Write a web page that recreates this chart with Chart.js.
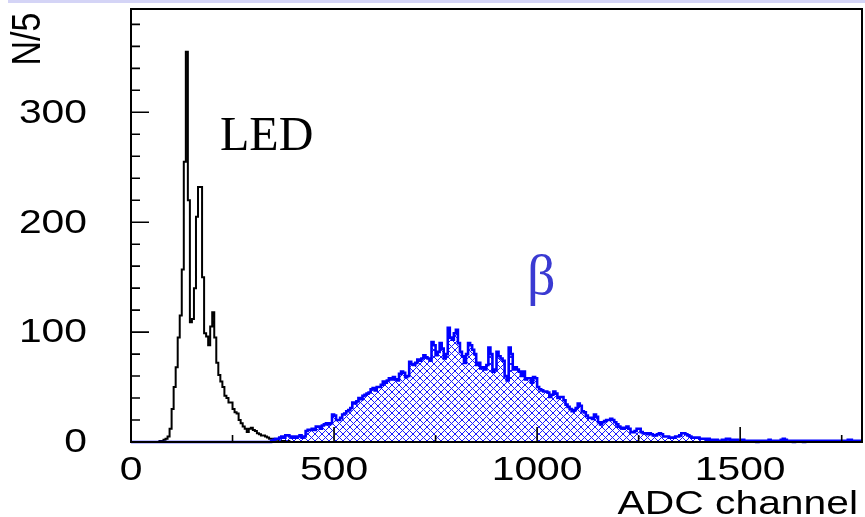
<!DOCTYPE html>
<html>
<head>
<meta charset="utf-8">
<script src="https://cdn.jsdelivr.net/npm/chart.js@4.4.1/dist/chart.umd.min.js"></script>
<style>
  html, body { margin: 0; padding: 0; background: #ffffff; }
  #wrap { position: relative; width: 865px; height: 517px; }
  #strip { position: absolute; left: 8px; top: 0; width: 857px; height: 3px; background: #d4d4f6; }
  canvas { display: block; }
</style>
</head>
<body>
<div id="wrap">
  <canvas id="c" width="865" height="517"></canvas>
  <div id="strip"></div>
</div>
<script>
// ---------- data ----------
const binWidth = 5;              // ADC channels per bin (N/5)
const xRange = [0, 1800];
const yRange = [0, 394];

const ledStart = 60;
const ledCounts = [
  0, 0, 1, 1, 2, 3, 5, 12, 30, 50,
  68, 95, 115, 157, 255, 355, 220, 109, 112, 140,
  205, 232, 232, 150, 99, 96, 88, 105, 118, 95,
  72, 61, 55, 50, 42, 40, 36, 36, 30, 27,
  26, 20, 17, 14, 12, 9, 12, 13, 11, 10,
  8, 7, 6, 6, 5, 4, 3, 3, 2, 2,
  2, 1, 1, 1, 1, 1, 0
];

const betaStart = 340;
const betaCounts = [
  0, 1, 2, 3, 3, 4, 5, 4, 6, 6,
  5, 4, 5, 4, 5, 6, 4, 5, 10, 11,
  11, 12, 11, 14, 14, 12, 15, 16, 17, 16,
  17, 25, 24, 20, 20, 22, 25, 26, 28, 29,
  31, 36, 35, 37, 40, 39, 42, 43, 44, 45,
  48, 49, 47, 50, 50, 52, 55, 54, 56, 58,
  57, 59, 57, 56, 62, 64, 63, 59, 60, 73,
  71, 70, 72, 75, 74, 76, 79, 77, 76, 74,
  91, 88, 79, 82, 90, 85, 76, 80, 104, 95,
  93, 99, 102, 90, 82, 78, 72, 80, 90, 88,
  84, 80, 70, 72, 67, 68, 66, 70, 86, 80,
  64, 66, 82, 78, 76, 74, 60, 56, 86, 80,
  66, 68, 66, 64, 60, 64, 57, 58, 58, 54,
  59, 58, 50, 48, 47, 46, 46, 45, 41, 43,
  46, 44, 40, 41, 41, 38, 34, 32, 30, 28,
  29, 31, 35, 33, 28, 27, 24, 22, 22, 21,
  25, 23, 18, 16, 18, 19, 20, 20, 21, 20,
  18, 16, 14, 13, 12, 13, 14, 12, 9, 9,
  10, 12, 12, 9, 8, 8, 7, 8, 7, 6,
  6, 7, 8, 7, 5, 5, 5, 4, 4, 4,
  5, 5, 6, 8, 8, 7, 6, 5, 4, 4,
  4, 4, 3, 3, 3, 2, 3, 2, 2, 2,
  2, 1, 1, 2, 2, 3, 3, 2, 2, 1,
  2, 1, 1, 2, 1, 1, 1, 1, 1, 1,
  0, 1, 1, 1, 1, 1, 2, 1, 1, 1,
  1, 1, 2, 3, 2, 1, 1, 1, 0, 1,
  1, 1, 1, 0, 1, 1, 1, 1, 1, 1,
  1, 1, 1, 1, 1, 1, 1, 1, 1, 1,
  1, 1, 1, 1, 1, 2, 2, 1, 1, 1,
  1, 1
];

const xMajorTicks = [0, 500, 1000, 1500];
const xMinorTicks = [250, 750, 1250, 1750];
const xTickLabels = ['0', '500', '1000', '1500'];
const yMajorTicks = [0, 100, 200, 300];
const yTickLabels = ['0', '100', '200', '300'];
const yMinorStep = 20;
const xTitle = 'ADC channel';
const yTitle = 'N/5';
const ledLabel = 'LED';
const betaLabel = 'β';

// ---------- helpers ----------
function histPoints(start, counts) {
  const pts = [{ x: xRange[0], y: 0 }];
  counts.forEach((v, i) => pts.push({ x: start + i * binWidth, y: v }));
  const end = start + counts.length * binWidth;
  if (end < xRange[1]) { pts.push({ x: end, y: 0 }); pts.push({ x: xRange[1], y: 0 }); }
  else pts.push({ x: xRange[1], y: counts[counts.length - 1] });
  return pts;
}

function hatchPattern(color) {
  const s = 7;
  const c = document.createElement('canvas');
  c.width = s; c.height = s;
  const g = c.getContext('2d');
  g.strokeStyle = color;
  g.lineWidth = 1;
  g.beginPath();
  g.moveTo(-1, -1); g.lineTo(s + 1, s + 1);
  g.moveTo(-1, s + 1); g.lineTo(s + 1, -1);
  g.stroke();
  return g.createPattern(c, 'repeat');
}

const SX = 1.2; // horizontal stretch of the sans labels
const SANS = '34px "Liberation Sans", Arial, sans-serif';
function sansText(ctx, text, x, y, align, baseline) {
  ctx.save();
  ctx.translate(x, y);
  ctx.scale(SX, 1);
  ctx.font = SANS;
  ctx.fillStyle = '#000';
  ctx.textAlign = align;
  ctx.textBaseline = baseline;
  ctx.fillText(text, 0, 0);
  ctx.restore();
}

const decor = {
  id: 'decor',
  afterDatasetsDraw(chart) {
    const ctx = chart.ctx;
    const a = chart.chartArea;
    const xs = chart.scales.x, ys = chart.scales.y;
    ctx.save();
    // frame
    ctx.strokeStyle = '#000';
    ctx.lineWidth = 2;
    ctx.strokeRect(a.left, a.top, a.right - a.left, a.bottom - a.top);
    // x ticks (inside, upward)
    ctx.lineWidth = 1.6;
    ctx.beginPath();
    xMajorTicks.forEach(v => { const p = xs.getPixelForValue(v); ctx.moveTo(p, a.bottom); ctx.lineTo(p, a.bottom - 15); });
    xMinorTicks.forEach(v => { const p = xs.getPixelForValue(v); ctx.moveTo(p, a.bottom); ctx.lineTo(p, a.bottom - 7); });
    // y ticks (inside, rightward)
    for (let v = yRange[0]; v <= yRange[1]; v += yMinorStep) {
      const p = ys.getPixelForValue(v);
      const len = (v % 100 === 0) ? 18 : 9;
      ctx.moveTo(a.left, p); ctx.lineTo(a.left + len, p);
    }
    ctx.stroke();
    // tick labels
    yMajorTicks.forEach((v, i) => sansText(ctx, yTickLabels[i], 87, ys.getPixelForValue(v) + 1, 'right', 'middle'));
    xMajorTicks.forEach((v, i) => sansText(ctx, xTickLabels[i], xs.getPixelForValue(v), 480, 'center', 'alphabetic'));
    // axis titles
    sansText(ctx, xTitle, 858, 514, 'right', 'alphabetic');
    ctx.save();
    ctx.translate(29, 39);
    ctx.scale(SX, 1);
    ctx.rotate(-Math.PI / 2);
    ctx.font = SANS;
    ctx.fillStyle = '#000';
    ctx.textAlign = 'center';
    ctx.textBaseline = 'middle';
    ctx.fillText(yTitle, 0, 0);
    ctx.restore();
    // annotations
    ctx.font = '48px "Liberation Serif", "Times New Roman", serif';
    ctx.fillStyle = '#000';
    ctx.textAlign = 'left';
    ctx.textBaseline = 'alphabetic';
    ctx.fillText(ledLabel, 220, 150);
    ctx.font = '56px "Liberation Serif", "Times New Roman", serif';
    ctx.fillStyle = '#3a3ad2';
    ctx.fillText(betaLabel, 527, 294);
    ctx.restore();
  }
};

new Chart(document.getElementById('c'), {
  type: 'line',
  data: {
    datasets: [
      {
        label: 'beta',
        data: histPoints(betaStart, betaCounts),
        stepped: true,
        borderColor: '#0000ff',
        borderWidth: 2.6,
        backgroundColor: hatchPattern('#1a1aff'),
        fill: 'origin',
        pointRadius: 0,
        clip: false
      },
      {
        label: 'LED',
        data: histPoints(ledStart, ledCounts),
        stepped: true,
        borderColor: '#000000',
        borderWidth: 2,
        fill: false,
        pointRadius: 0,
        clip: false
      }
    ]
  },
  options: {
    responsive: false,
    animation: false,
    events: [],
    layout: { padding: { left: 131, top: 9, right: 3, bottom: 75 } },
    plugins: { legend: { display: false }, tooltip: { enabled: false } },
    scales: {
      x: { type: 'linear', min: xRange[0], max: xRange[1], display: false },
      y: { type: 'linear', min: yRange[0], max: yRange[1], display: false }
    }
  },
  plugins: [decor]
});
</script>
</body>
</html>
